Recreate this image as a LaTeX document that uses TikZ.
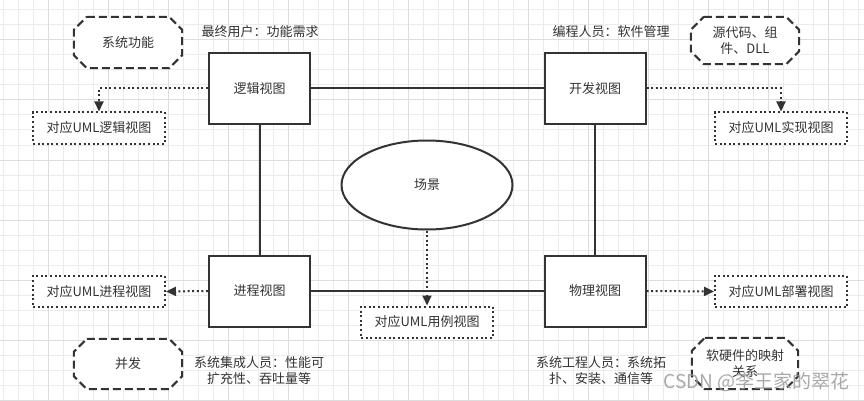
\documentclass[tikz,border=0pt]{standalone}
\usepackage{fontspec}
\setmainfont{Noto Sans CJK SC}
\usetikzlibrary{arrows.meta,calc,shapes.geometric,backgrounds}
\definecolor{ink}{HTML}{333333}
\definecolor{gridminor}{HTML}{EBEBEB}
\definecolor{gridmajor}{HTML}{DDDDDD}
\definecolor{wm}{HTML}{9A9A9A}
\newcommand{\octoframe}[2]{% node name, cut
  \draw[octoline] ($(#1.north west)+(#2,0)$) -- ($(#1.north east)+(-#2,0)$)
    -- ($(#1.north east)+(0,#2)$) -- ($(#1.south east)+(0,-#2)$)
    -- ($(#1.south east)+(-#2,0)$) -- ($(#1.south west)+(#2,0)$)
    -- ($(#1.south west)+(0,-#2)$) -- ($(#1.north west)+(0,#2)$) -- cycle;}
\begin{document}
\begin{tikzpicture}[x=1pt,y=-1pt,
  font=\fontsize{13}{16}\selectfont, text=ink,
  view/.style={draw=ink, fill=white, line width=2pt, minimum width=101pt, minimum height=71pt, inner sep=0pt},
  umlbox/.style={draw=ink, fill=white, line width=2pt, dash pattern=on 2pt off 2.6pt, minimum width=132pt, minimum height=31pt, inner sep=0pt},
  octo/.style={minimum width=108pt, minimum height=51pt, inner sep=0pt, align=center},
  octoline/.style={draw=ink, fill=white, line width=2pt, dash pattern=on 8pt off 4pt},
  plain/.style={inner sep=0pt, align=center},
  link/.style={draw=ink, line width=2pt},
  dotarrow/.style={draw=ink, line width=2pt, dash pattern=on 2pt off 2.6pt, -{Triangle[length=10pt,width=9pt]}},
]
\useasboundingbox (0,0) rectangle (864,401);
% grid
\begin{scope}[on background layer]
\fill[white] (0,0) rectangle (864,401);
\foreach \i in {0,...,57} {\draw[gridminor, line width=1pt] ({3.3+15*\i},0) -- ({3.3+15*\i},401);}
\foreach \j in {0,...,26} {\draw[gridminor, line width=1pt] (0,{10+15*\j}) -- (864,{10+15*\j});}
\foreach \i in {0,...,13} {\draw[gridmajor, line width=1pt] ({48.3+60*\i},0) -- ({48.3+60*\i},401);}
\foreach \j in {0,...,6} {\draw[gridmajor, line width=1pt] (0,{40+60*\j}) -- (864,{40+60*\j});}
\end{scope}

% four views
\node[view] (logic) at (259.5,88.5) {逻辑视图};
\node[view] (dev) at (595,88.5) {开发视图};
\node[view] (proc) at (259.5,291) {进程视图};
\node[view] (phys) at (595,291) {物理视图};

% connecting lines
\draw[link] (logic) -- (dev);
\draw[link] (logic) -- (proc);
\draw[link] (dev) -- (phys);
\draw[link] (proc) -- (phys);

% scene
\node[ellipse, draw=ink, fill=white, line width=2pt, minimum width=171pt, minimum height=89pt, inner sep=0pt] (scene) at (427,185) {场景};

% UML boxes
\node[umlbox] (ulogic) at (99,128) {对应UML逻辑视图};
\node[umlbox] (udev) at (781,128) {对应UML实现视图};
\node[umlbox] (uproc) at (99,291.5) {对应UML进程视图};
\node[umlbox] (uphys) at (781,291.5) {对应UML部署视图};
\node[umlbox] (uscene) at (427,322) {对应UML用例视图};

% dotted arrows
\draw[dotarrow] (logic.west) -| (ulogic.north);
\draw[dotarrow] (dev.east) -| (udev.north);
\draw[dotarrow] (proc.west) -- (uproc.east);
\draw[dotarrow] (phys.east) -- (uphys.west);
\draw[dotarrow] (scene.south) -- (uscene.north);

% octagons
\node[octo] (ofunc) at (128,42.5) {系统功能};
\node[octo, minimum height=47pt] (osrc) at (745,40.5) {源代码、组\\件、DLL};
\node[octo, minimum height=50pt] (oconc) at (128,364) {并发};
\node[octo, minimum width=106pt] (omap) at (745,363.5) {软硬件的映射\\关系};
\begin{scope}[on background layer]
\octoframe{ofunc}{13}
\octoframe{osrc}{13}
\octoframe{oconc}{13}
\octoframe{omap}{13}
\end{scope}

% role labels
\node[plain] (luser) at (260,32) {最终用户：功能需求};
\node[plain] (lprog) at (611,32) {编程人员：软件管理};
\node[plain] (lsys) at (259,370.5) {系统集成人员：性能可\\扩充性、吞吐量等};
\node[plain] (leng) at (601,370.5) {系统工程人员：系统拓\\扑、安装、通信等};

% watermark
\node[plain, text=wm, text opacity=0.85, font=\fontsize{19}{22}\selectfont, anchor=east] (wmark) at (850,382) {CSDN @李王家的翠花};
\end{tikzpicture}
\end{document}
